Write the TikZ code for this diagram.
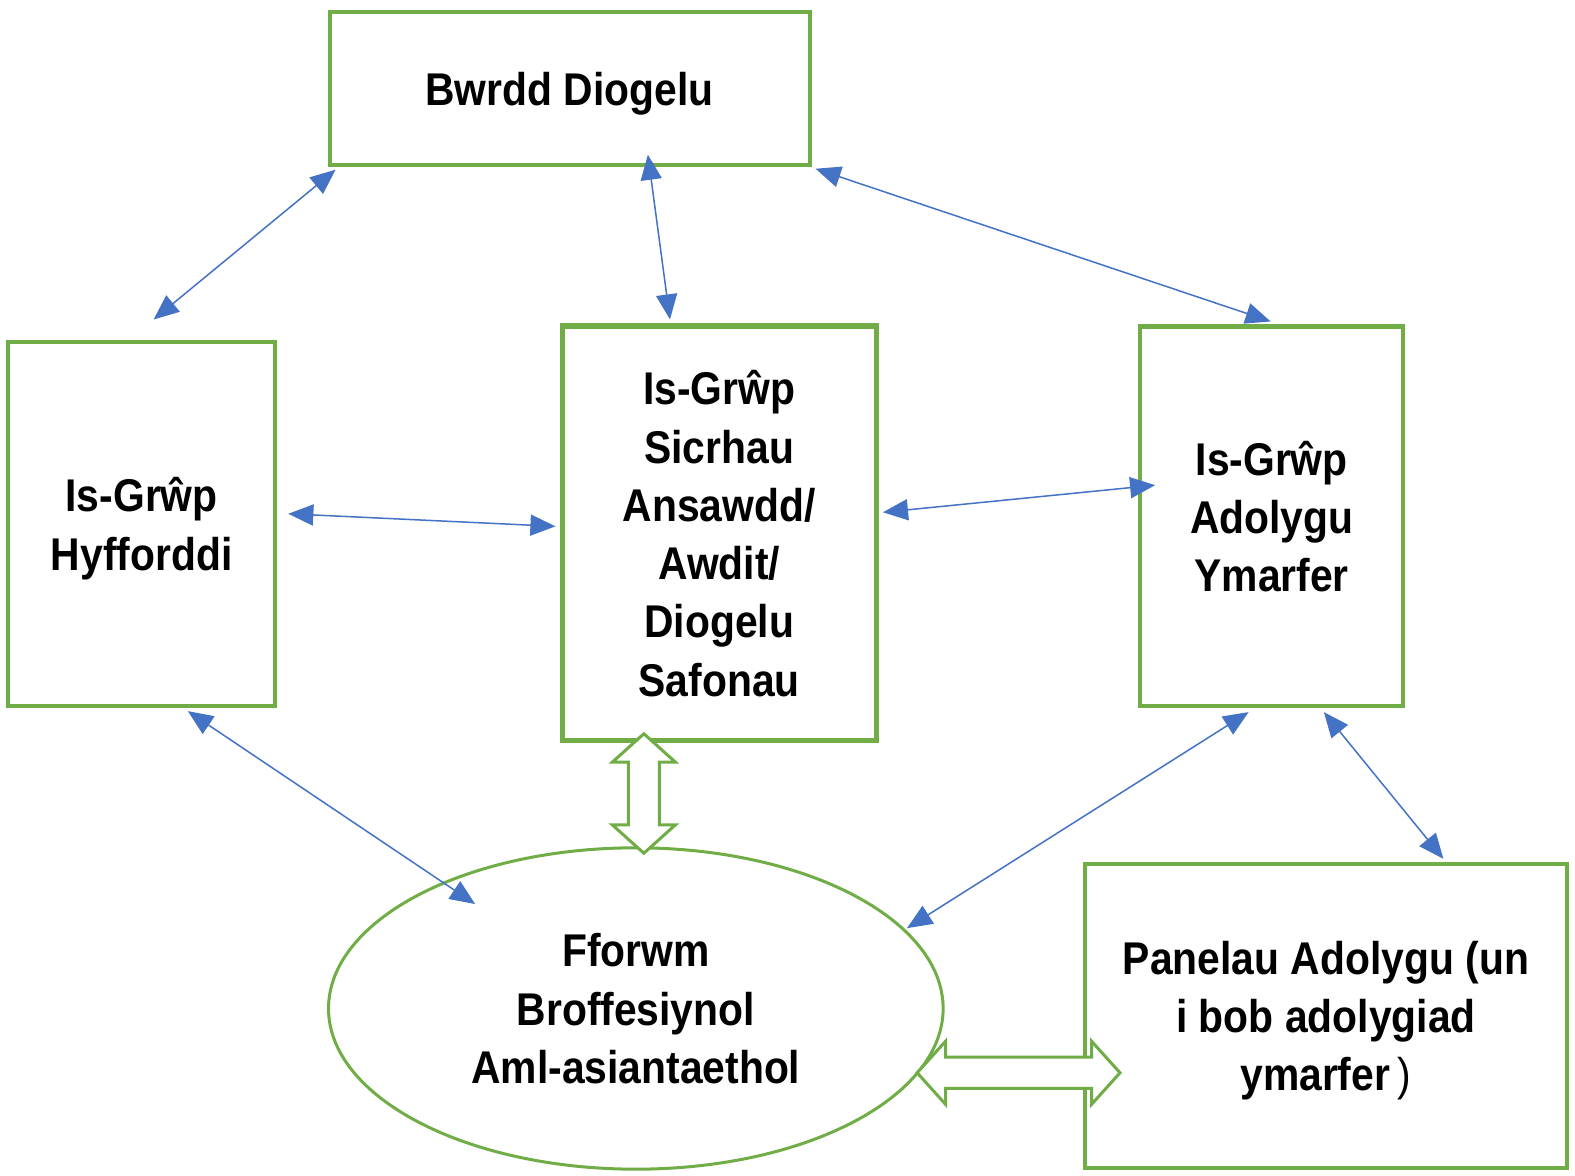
\documentclass[tikz,border=0pt]{standalone}
\usepackage{fontspec}
\setmainfont{Liberation Sans}[FakeStretch=0.89]
\usetikzlibrary{arrows.meta, shapes.geometric, shapes.arrows}

\definecolor{boxgreen}{HTML}{70AD47}
\definecolor{linkblue}{HTML}{4472C4}

\begin{document}
\begin{tikzpicture}[x=0.02cm, y=-0.02cm,
        box/.style={draw=boxgreen, line width=0.08cm, align=center, text depth=0pt, font=\bfseries\fontsize{26}{33}\selectfont},
        link/.style={linkblue, line width=0.03cm, {Triangle[length=0.5cm,width=0.42cm]}-{Triangle[length=0.5cm,width=0.42cm]}},
        hollow/.style={double arrow, draw=boxgreen, fill=white, line width=0.06cm, inner xsep=0pt, inner ysep=0.28cm,
            double arrow head extend=0.32cm, double arrow tip angle=96}]
        \useasboundingbox (0,0) rectangle (1568,1170);

        \node[box, minimum width=9.56cm, minimum height=3.04cm] (bwrdd) at (567,88) {Bwrdd Diogelu};
        \node[box, minimum width=5.32cm, minimum height=7.26cm] (hyff) at (141,521.5) {Is-Grŵp\\Hyfforddi};
        \node[box, line width=0.1cm, minimum width=6.26cm, minimum height=8.26cm] (sicr) at (716,531)
            {Is-Grŵp\\Sicrhau\\Ansawdd/\\Awdit/\\Diogelu\\Safonau};
        \node[box, minimum width=5.24cm, minimum height=7.56cm] (adol) at (1266,514) {Is-Grŵp\\Adolygu\\Ymarfer};
        \node[box, minimum width=9.6cm, minimum height=6.06cm] (panel) at (1320,1011.5)
            {Panelau Adolygu (un\\i bob adolygiad\\ymarfer{\mdseries\,)}};
        \node[box, ellipse, line width=0.06cm, inner sep=0pt, minimum width=12.24cm, minimum height=6.4cm] (forum) at (633,1004)
            {Fforwm\\Broffesiynol\\Aml-asiantaethol};

        \draw[link] ([shift={(8,3)}]bwrdd.south west) -- ([shift={(12,-20)}]hyff.north);
        \draw[link] ([shift={(78,-12)}]bwrdd.south) -- ([shift={(-49,-4)}]sicr.north);
        \draw[link] ([shift={(4,2)}]bwrdd.south east) -- ([shift={(-1,-3)}]adol.north);
        \draw[link] ([shift={(11,-10)}]hyff.east) -- ([shift={(-4,-7)}]sicr.west);
        \draw[link] ([shift={(4,-21)}]sicr.east) -- ([shift={(17,-31)}]adol.west);
        \draw[link] ([shift={(46,3)}]hyff.south) -- ([shift={(-160,-104)}]forum.center);
        \draw[link] ([shift={(-23,4)}]adol.south) -- ([shift={(270,-80)}]forum.center);
        \draw[link] ([shift={(52,4)}]adol.south) -- ([shift={(117,-3)}]panel.north);

        \node[hollow, rotate=90, minimum height=2.38cm] (upDown) at ([shift={(-75,50)}]sicr.south) {};
        \node[hollow, minimum height=4.04cm] (leftRight) at ([shift={(-64,56.5)}]panel.west) {};
    \end{tikzpicture}
\end{document}
